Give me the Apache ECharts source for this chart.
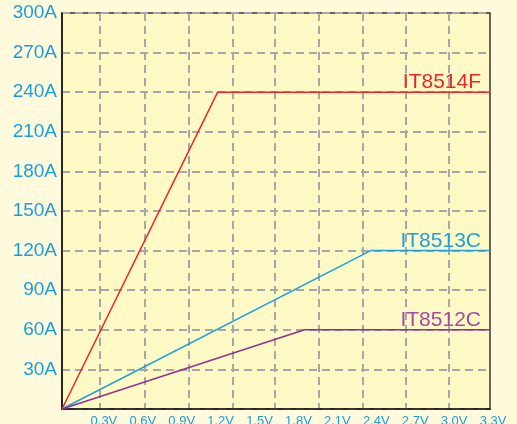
<!DOCTYPE html>
<html>
<head>
<meta charset="utf-8">
<script src="https://cdn.jsdelivr.net/npm/echarts@6/dist/echarts.min.js"></script>
<style>
  html, body { margin: 0; padding: 0; background: #fffadb; }
  #chart { width: 517px; height: 424px; }
</style>
</head>
<body>
<div id="chart"></div>
<script>
// load curves (voltage V, current A)
var it8514f = [[0, 0], [1.2, 240], [3.3, 240]];
var it8513c = [[0, 0], [2.38, 120], [3.3, 120]];
var it8512c = [[0, 0], [1.87, 60], [3.3, 60]];
// vertical dashed grid lines (as drawn in the original, not on the label ticks)
var gridVolts = [0.293, 0.637, 0.974, 1.313, 1.643, 1.982, 2.316, 2.65, 2.984];

var font = 'Liberation Sans';
var labelBlue = '#1a9ee0';

function curve(name, data, color, textColor) {
  return {
    name: name, type: 'line', data: data, symbol: 'none', silent: true,
    lineStyle: { color: color, width: 1.5 }, z: 3,
    endLabel: {
      show: true, formatter: name, align: 'right', verticalAlign: 'bottom',
      distance: 0, offset: [-9, 1], color: textColor,
      fontFamily: font, fontSize: 21
    }
  };
}

var myChart = echarts.init(document.getElementById('chart'));
myChart.setOption({
  backgroundColor: '#fffadb',
  animation: false,
  grid: {
    left: 62, right: 27, top: 13, bottom: 15, outerBoundsMode: 'none',
    show: true, backgroundColor: '#fff9c6', borderColor: '#3a3528', borderWidth: 1.5
  },
  xAxis: [{
    type: 'value', min: 0, max: 3.3, interval: 0.3,
    axisLine: { show: true, lineStyle: { color: '#111', width: 1.5 } },
    axisTick: { show: false },
    splitLine: { show: false },
    axisLabel: {
      showMinLabel: false, color: labelBlue, fontFamily: font, fontSize: 13, margin: 6,
      padding: [0, 0, 0, 6],
      formatter: function (v) { return v.toFixed(1) + 'V'; }
    }
  }, {
    type: 'value', min: 0, max: 3.3, position: 'bottom',
    axisLine: { show: false },
    axisLabel: { show: false },
    axisTick: { show: false, customValues: gridVolts },
    splitLine: { show: true, lineStyle: { color: '#a7a7a7', width: 2, type: [8, 5] } }
  }],
  yAxis: {
    type: 'value', min: 0, max: 300, interval: 30,
    axisLine: { show: true, lineStyle: { color: '#111', width: 1.5 } },
    axisTick: { show: false },
    axisLabel: {
      showMinLabel: false, color: labelBlue, fontFamily: font, fontSize: 19, margin: 5,
      padding: [8, 0, 0, 0],
      formatter: function (v) { return v + 'A'; }
    },
    splitLine: { show: true, lineStyle: { color: '#a7a7a7', width: 2, type: [8, 5] } }
  },
  series: [
    curve('IT8514F', it8514f, '#e8262c', '#e8262c'),
    curve('IT8513C', it8513c, '#1ba1e2', '#1ba1e2'),
    curve('IT8512C', it8512c, '#92318a', '#a64a9e')
  ]
});
</script>
</body>
</html>
